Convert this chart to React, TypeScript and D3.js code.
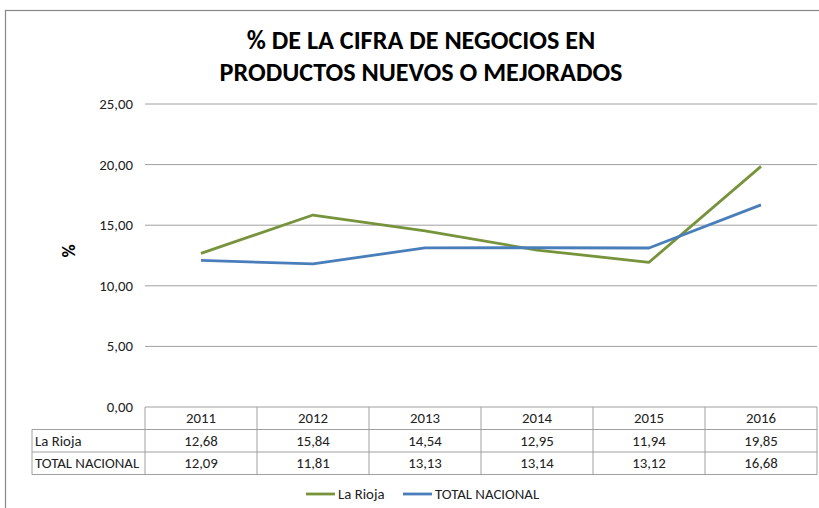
import React from "react";
import * as d3 from "d3";

const years = ["2011", "2012", "2013", "2014", "2015", "2016"];
const laRioja = [12.68, 15.84, 14.54, 12.95, 11.94, 19.85];
const totalNacional = [12.09, 11.81, 13.13, 13.14, 13.12, 16.68];
const yTicks = [0, 5, 10, 15, 20, 25];
const seriesNames = ["La Rioja", "TOTAL NACIONAL"];
const seriesColors = ["#77933C", "#4A7EBB"];

const fmt = (v: number) => v.toFixed(2).replace(".", ",");
const font = "Calibri, Carlito, 'Liberation Sans Narrow', 'Open Sans', sans-serif";

export default function App() {
  const W = 819, H = 508;
  const left = 145, right = 817, top = 104, bottom = 407;
  const x = d3.scaleBand<string>().domain(years).range([left, right]);
  const y = d3.scaleLinear().domain([0, 25]).range([bottom, top]);
  const line = d3.line<number>()
    .x((_, i) => (x(years[i]) as number) + x.bandwidth() / 2)
    .y((d) => y(d));
  const series = [laRioja, totalNacional];
  const rowH = 22.5;
  const tableLeft = 32;
  const fs = 14.8;
  return (
    <svg width={W} height={H} style={{ position: "absolute", left: 0, top: 0 }}>
      <rect x={0} y={0} width={W} height={H} fill="#fff" />
      <rect x={5.5} y={10.5} width={W + 10} height={H + 10} fill="none" stroke="#888" strokeWidth={1.2} />
      <text x={421} y={48.5} textAnchor="middle" fontFamily={font} fontWeight="bold" fontSize={26.2} fill="#000">% DE LA CIFRA DE NEGOCIOS EN</text>
      <text x={421} y={80.5} textAnchor="middle" fontFamily={font} fontWeight="bold" fontSize={26.2} fill="#000">PRODUCTOS NUEVOS O MEJORADOS</text>
      {yTicks.map((t) => (
        <g key={t}>
          {t > 0 && <line x1={left} x2={right} y1={y(t)} y2={y(t)} stroke="#A0A0A0" strokeWidth={1} />}
          <text x={133} y={y(t) + 5} textAnchor="end" fontFamily={font} fontSize={fs} fill="#222">{fmt(t)}</text>
        </g>
      ))}
      <text transform="translate(75,251) rotate(-90)" textAnchor="middle" fontFamily={font} fontWeight="bold" fontSize={18} fill="#000">%</text>
      {series.map((s, i) => (
        <path key={i} d={line(s) || ""} fill="none" stroke={seriesColors[i]} strokeWidth={2.8} strokeLinejoin="round" />
      ))}
      {/* data table */}
      <g stroke="#A0A0A0" strokeWidth={1} fill="none">
        <line x1={left} x2={right} y1={bottom} y2={bottom} />
        <line x1={tableLeft} x2={right} y1={bottom + rowH} y2={bottom + rowH} />
        <line x1={tableLeft} x2={right} y1={bottom + 2 * rowH} y2={bottom + 2 * rowH} />
        <line x1={tableLeft} x2={right} y1={bottom + 3 * rowH} y2={bottom + 3 * rowH} />
        <line x1={tableLeft} x2={tableLeft} y1={bottom + rowH} y2={bottom + 3 * rowH} />
        {years.map((yr) => (
          <line key={yr} x1={x(yr)} x2={x(yr)} y1={bottom} y2={bottom + 3 * rowH} />
        ))}
        <line x1={right} x2={right} y1={bottom} y2={bottom + 3 * rowH} />
      </g>
      {years.map((yr, i) => (
        <g key={yr} fontFamily={font} fontSize={fs} fill="#222" textAnchor="middle">
          <text x={(x(yr) as number) + x.bandwidth() / 2} y={bottom + rowH / 2 + 5}>{yr}</text>
          <text x={(x(yr) as number) + x.bandwidth() / 2} y={bottom + rowH * 1.5 + 5}>{fmt(laRioja[i])}</text>
          <text x={(x(yr) as number) + x.bandwidth() / 2} y={bottom + rowH * 2.5 + 5}>{fmt(totalNacional[i])}</text>
        </g>
      ))}
      {seriesNames.map((n, i) => (
        <text key={n} x={tableLeft + 3} y={bottom + rowH * (1.5 + i) + 5} fontFamily={font} fontSize={fs} fill="#222">{n}</text>
      ))}
      {/* legend */}
      {seriesNames.map((n, i) => {
        const lx = [306, 403][i];
        return (
          <g key={n}>
            <line x1={lx} x2={lx + 29} y1={494} y2={494} stroke={seriesColors[i]} strokeWidth={2.8} />
            <text x={lx + 32} y={499} fontFamily={font} fontSize={fs} fill="#222">{n}</text>
          </g>
        );
      })}
    </svg>
  );
}
